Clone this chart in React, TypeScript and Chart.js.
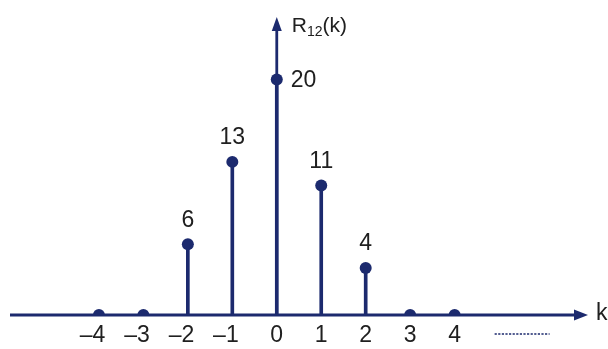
import { useEffect, useRef } from "react";
import { Chart, registerables } from "chart.js";

Chart.register(...registerables);

// Cross-correlation sequence R12(k) sampled at integer lags
const lags = [-4, -3, -2, -1, 0, 1, 2, 3, 4];
const r12 = [0, 0, 6, 13, 20, 11, 4, 0, 0];
const tickLabels = ["–4", "–3", "–2", "–1", "0", "1", "2", "3", "4"];
const valueLabels = ["", "", "6", "13", "20", "11", "4", "", ""];

const NAVY = "#1c2a6e";
const INK = "#202020";
const FONT = '"Liberation Sans", Arial, sans-serif';

const axesPlugin = {
  id: "stemAxes",
  beforeDatasetsDraw(chart: any) {
    const { ctx, chartArea, scales } = chart;
    const xs = scales.x;
    const ys = scales.y;
    const y0 = ys.getPixelForValue(0);
    const x0 = xs.getPixelForValue(0);
    ctx.save();
    ctx.strokeStyle = NAVY;
    ctx.fillStyle = NAVY;
    ctx.lineWidth = 2.8;
    // horizontal axis with arrow
    const xr = chartArea.right;
    ctx.beginPath();
    ctx.moveTo(chartArea.left, y0);
    ctx.lineTo(xr - 10, y0);
    ctx.stroke();
    ctx.beginPath();
    ctx.moveTo(xr, y0);
    ctx.lineTo(xr - 14, y0 - 5.5);
    ctx.lineTo(xr - 14, y0 + 5.5);
    ctx.closePath();
    ctx.fill();
    // vertical axis with arrow
    const yt = chartArea.top;
    ctx.beginPath();
    ctx.moveTo(x0, y0);
    ctx.lineTo(x0, yt + 10);
    ctx.stroke();
    ctx.beginPath();
    ctx.moveTo(x0, yt);
    ctx.lineTo(x0 - 5, yt + 14);
    ctx.lineTo(x0 + 5, yt + 14);
    ctx.closePath();
    ctx.fill();
    ctx.restore();
  },
  afterDatasetsDraw(chart: any) {
    const { ctx, chartArea, scales } = chart;
    const xs = scales.x;
    const ys = scales.y;
    const y0 = ys.getPixelForValue(0);
    const x0 = xs.getPixelForValue(0);
    ctx.save();
    ctx.fillStyle = INK;
    ctx.font = `23px ${FONT}`;
    ctx.textBaseline = "middle";

    // lag tick labels, digit centred under its stem
    const digitW = ctx.measureText("0").width;
    lags.forEach((k, i) => {
      const px = xs.getPixelForValue(k);
      ctx.textAlign = "right";
      ctx.fillText(tickLabels[i], px + digitW / 2, y0 + 21);
    });

    // value labels above stems (the peak is labelled to the right)
    lags.forEach((k, i) => {
      const label = valueLabels[i];
      if (!label) return;
      const px = xs.getPixelForValue(k);
      const py = ys.getPixelForValue(r12[i]);
      if (k === 0) {
        ctx.textAlign = "left";
        ctx.fillText(label, px + 14, py + 1);
      } else {
        ctx.textAlign = "center";
        ctx.fillText(label, px, py - 24);
      }
    });

    // axis names
    ctx.textAlign = "left";
    ctx.fillText("k", chartArea.right + 8, y0 - 1);
    const ty = chartArea.top + 9;
    ctx.font = `21px ${FONT}`;
    ctx.fillText("R", x0 + 15, ty);
    const rW = ctx.measureText("R").width;
    ctx.font = `14px ${FONT}`;
    ctx.fillText("12", x0 + 15 + rW, ty + 6);
    const sW = ctx.measureText("12").width;
    ctx.font = `21px ${FONT}`;
    ctx.fillText("(k)", x0 + 15 + rW + sW, ty);

    // continuation marks after the last lag
    const xd = xs.getPixelForValue(4);
    ctx.strokeStyle = NAVY;
    ctx.lineWidth = 1.6;
    ctx.setLineDash([2.2, 1.4]);
    ctx.beginPath();
    ctx.moveTo(xd + 40, y0 + 19);
    ctx.lineTo(xd + 95, y0 + 19);
    ctx.stroke();
    ctx.restore();
  },
};

export default function App() {
  const canvasRef = useRef<HTMLCanvasElement | null>(null);

  useEffect(() => {
    const canvas = canvasRef.current;
    if (!canvas) return;
    const points = lags.map((k, i) => ({ x: k, y: r12[i] }));
    const chart = new Chart(canvas, {
      type: "bar",
      data: {
        datasets: [
          {
            type: "bar",
            data: points,
            backgroundColor: NAVY,
            barThickness: 3,
            grouped: false,
            borderWidth: 0,
          } as any,
          {
            type: "scatter",
            data: points,
            backgroundColor: NAVY,
            borderWidth: 0,
            pointRadius: 6,
            showLine: false,
          } as any,
        ],
      },
      options: {
        animation: false,
        responsive: false,
        maintainAspectRatio: false,
        layout: { padding: { left: 10, right: 20, top: 17, bottom: 34 } },
        plugins: {
          legend: { display: false },
          tooltip: { enabled: false },
        },
        scales: {
          x: { type: "linear", min: -6, max: 7, offset: false, display: false },
          y: { type: "linear", min: 0, max: 25.3, display: false },
        },
      },
      plugins: [axesPlugin],
    });
    return () => chart.destroy();
  }, []);

  return (
    <div style={{ position: "absolute", left: 0, top: 0, width: 608, height: 349, background: "#ffffff" }}>
      <canvas ref={canvasRef} width={608} height={349} style={{ display: "block" }} />
    </div>
  );
}
